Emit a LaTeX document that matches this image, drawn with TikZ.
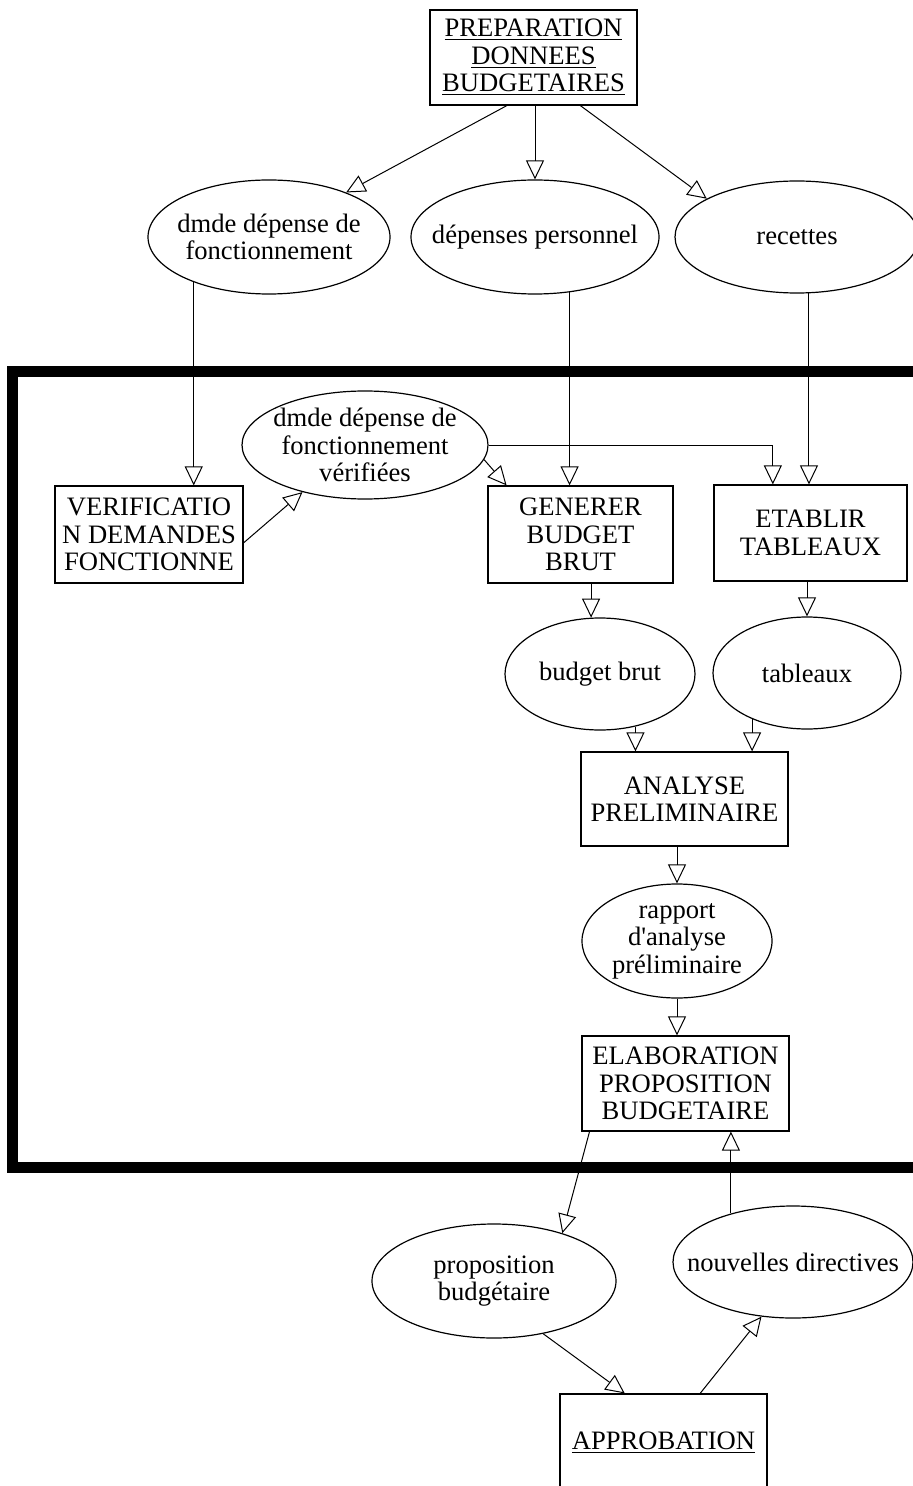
\documentclass[tikz,border=0pt]{standalone}
\usepackage{fontspec}
\setmainfont{Liberation Serif}[Ligatures=TeXOff]
\usetikzlibrary{shapes.geometric,arrows.meta,calc}
\begin{document}
\begin{tikzpicture}[x=0.5pt,y=-0.5pt,
  txt/.style={font=\fontsize{13.3pt}{13.7pt}\selectfont, align=center, inner sep=0pt},
  proc/.style={txt, draw, line width=0.6pt, rectangle},
  flow/.style={draw, line width=0.6pt, ellipse, inner sep=0pt},
  arr/.style={line width=0.5pt, -{Triangle[open,length=9.5pt,width=9pt]}},
  frame/.style={line width=5.5pt, line join=miter}]
\useasboundingbox (0,0) rectangle (913,1486);

% thick frame
\draw[frame] (913,372) -- (12.5,372) -- (12.5,1167) -- (913,1167);

% process boxes
\node[proc, minimum width=103.5pt, minimum height=47.5pt] (prep) at (533.5,57.5)
  {\underline{PREPARATION}\\\underline{DONNEES}\\\underline{BUDGETAIRES}};
\node[proc, minimum width=94pt, minimum height=48.5pt] (verif) at (149,534.5)
  {VERIFICATIO\\N DEMANDES\\FONCTIONNE};
\node[proc, minimum width=92.5pt, minimum height=48.5pt] (gen) at (580.5,534.5)
  {GENERER\\BUDGET\\BRUT};
\node[proc, minimum width=96.5pt, minimum height=48pt] (etab) at (810.5,533)
  {ETABLIR\\TABLEAUX};
\node[proc, minimum width=103.5pt, minimum height=47pt] (ana) at (684.5,799)
  {ANALYSE\\PRELIMINAIRE};
\node[proc, minimum width=103.5pt, minimum height=47.5pt] (elab) at (685.5,1083.5)
  {ELABORATION\\PROPOSITION\\BUDGETAIRE};
\node[proc, minimum width=103.5pt, minimum height=49pt] (appro) at (663.5,1443)
  {\underline{APPROBATION}};

% data flows (ellipses)
\node[flow, minimum width=121pt, minimum height=57pt] (e1) at (269,237) {};
\node[txt] (e1t) at (e1.center) {dmde dépense de\\fonctionnement};
\node[flow, minimum width=124pt, minimum height=57pt] (e2) at (535,237) {};
\node[txt] (e2t) at (e2.center) {dépenses personnel};
\node[flow, minimum width=122pt, minimum height=56pt] (e3) at (797,237) {};
\node[txt] (e3t) at (e3.center) {recettes};
\node[flow, minimum width=123pt, minimum height=54pt] (e4) at (365,445) {};
\node[txt] (e4t) at (e4.center) {dmde dépense de\\fonctionnement\\vérifiées};
\node[flow, minimum width=95pt, minimum height=56pt] (bb) at (600,674) {};
\node[txt] (bbt) at (bb.center) {budget brut};
\node[flow, minimum width=94pt, minimum height=56pt] (tab) at (807,673) {};
\node[txt] (tabt) at (tab.center) {tableaux};
\node[flow, minimum width=95pt, minimum height=57pt] (rap) at (677,941) {};
\node[txt] (rapt) at (rap.center) {rapport\\d'analyse\\préliminaire};
\node[flow, minimum width=122pt, minimum height=57pt] (prop) at (494,1281) {};
\node[txt] (propt) at (prop.center) {proposition\\budgétaire};
\node[flow, minimum width=120pt, minimum height=56pt] (nouv) at (793,1262) {};
\node[txt] (nouvt) at (nouv.center) {nouvelles directives};

% connectors
\draw[arr] ($(prep.south west)!0.372!(prep.south east)$) -- (e1.30);
\draw[arr] (prep.south -| e2.north) -- (e2.north);
\draw[arr] ($(prep.south west)!0.725!(prep.south east)$) -- (e3.157);
\draw[arr] (e1.211) -- (e1.211 |- verif.north);
\draw[arr] (e2.302) -- (e2.302 |- gen.north);
\draw[arr] (e3.282) -- (e3.282 |- etab.north);
\draw[arr] ($(verif.east)!0.17!(verif.south east)$) -- (e4.217);
\draw[arr] (e4.353) -- ($(gen.north west)!0.103!(gen.north east)$);
\draw[arr] (e4.east) -| ($(etab.north west)!0.306!(etab.north east)$);
\draw[arr] (gen.south -| bb.99) -- (bb.99);
\draw[arr] (etab.south -| tab.north) -- (tab.north);
\draw[arr] (bb.304) -- (bb.304 |- ana.north);
\draw[arr] (tab.220) -- (tab.220 |- ana.north);
\draw[arr] (ana.south -| rap.north) -- (rap.north);
\draw[arr] (rap.south) -- (rap.south |- elab.north);
\draw[arr] ($(elab.south west)!0.039!(elab.south east)$) -- (prop.35);
\draw[arr] (nouv.142) -- (nouv.142 |- elab.south);
\draw[arr] (prop.313) -- ($(appro.north west)!0.314!(appro.north east)$);
\draw[arr] ($(appro.north west)!0.676!(appro.north east)$) -- (nouv.240);
\end{tikzpicture}
\end{document}
